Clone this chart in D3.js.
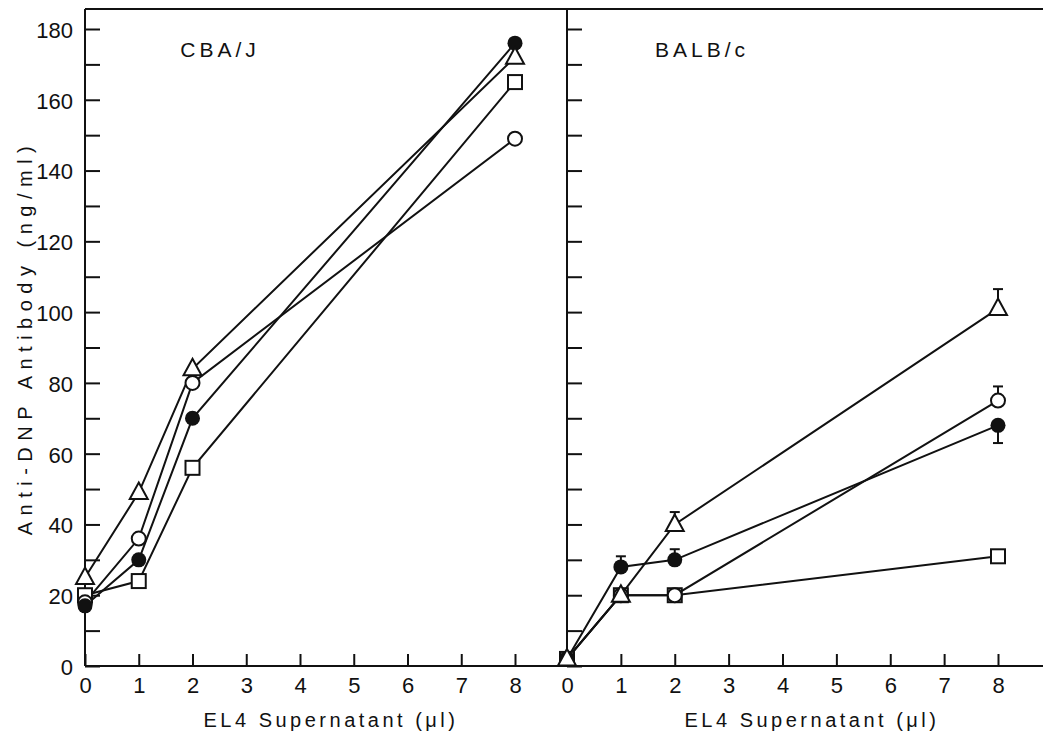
<!DOCTYPE html>
<html>
<head>
<meta charset="utf-8">
<script src="https://cdn.jsdelivr.net/npm/d3@7"></script>
<style>
  body { margin: 0; background: #fff; }
  text { font-family: "Liberation Sans", Arial, sans-serif; fill: #111; }
</style>
</head>
<body>
<div id="chart"></div>
<script>
// x positions (EL4 supernatant, ul)
var xVals = [0, 1, 2, 8];
var xTicks = [0, 1, 2, 3, 4, 5, 6, 7, 8];
var yTicks = d3.range(0, 181, 10);

// CBA/J panel
var cbaFilled = [17, 30, 70, 176];
var cbaCircle = [18, 36, 80, 149];
var cbaTriangle = [25, 49, 84, 172];
var cbaSquare = [20, 24, 56, 165];

// BALB/c panel
var balbFilled = [2, 28, 30, 68];
var balbCircle = [2, 20, 20, 75];
var balbTriangle = [2, 20, 40, 101];
var balbSquare = [2, 20, 20, 31];
// error bars (positive = drawn up, negative = drawn down, 0 = none)
var balbFilledErr = [0, 3, 3, -5];
var balbCircleErr = [0, 0, 0, 4];
var balbTriangleErr = [0, 0, 3.5, 5.5];
var balbSquareErr = [0, 0, 0, 0];

var W = 1043, H = 735;
var plotTop = 9, plotBottom = 666;
var leftX0 = 85, divX = 567;

var svg = d3.select("#chart").append("svg")
  .attr("width", W).attr("height", H);

var y = d3.scaleLinear().domain([0, 180]).range([plotBottom, 29]);

var panels = [
  { name: "CBA/J", x0: leftX0, x8: 515, labels: true, labelX: 220, titleX: 331,
    series: [
      { v: cbaSquare, m: "square" },
      { v: cbaCircle, m: "circle" },
      { v: cbaFilled, m: "filled" },
      { v: cbaTriangle, m: "triangle" }
    ] },
  { name: "BALB/c", x0: divX, x8: 998, labels: false, labelX: 702, titleX: 812,
    series: [
      { v: balbSquare, e: balbSquareErr, m: "square" },
      { v: balbCircle, e: balbCircleErr, m: "circle" },
      { v: balbFilled, e: balbFilledErr, m: "filled" },
      { v: balbTriangle, e: balbTriangleErr, m: "triangle" }
    ] }
];

// frame
svg.append("line").attr("x1", leftX0).attr("x2", W).attr("y1", plotTop).attr("y2", plotTop)
  .attr("stroke", "#111").attr("stroke-width", 2);
svg.append("line").attr("x1", leftX0).attr("x2", W).attr("y1", plotBottom).attr("y2", plotBottom)
  .attr("stroke", "#111").attr("stroke-width", 2);
[leftX0, divX].forEach(function(px) {
  svg.append("line").attr("x1", px).attr("x2", px).attr("y1", plotTop).attr("y2", plotBottom)
    .attr("stroke", "#111").attr("stroke-width", 2);
});

var line = d3.line();

panels.forEach(function(p) {
  var x = d3.scaleLinear().domain([0, 8]).range([p.x0, p.x8]);

  var yAxis = d3.axisLeft(y).tickValues(yTicks)
    .tickSizeInner(-15).tickSizeOuter(0).tickPadding(12)
    .tickFormat(function(d) { return (p.labels && d % 20 === 0) ? d : ""; });
  var ga = svg.append("g").attr("transform", "translate(" + p.x0 + ",0)").call(yAxis);
  ga.select(".domain").remove();
  ga.selectAll("line").attr("stroke", "#111").attr("stroke-width", 2);
  ga.selectAll("text").style("font-size", "22px").attr("dy", "0.38em");

  var xAxis = d3.axisBottom(x).tickValues(xTicks)
    .tickSizeInner(-12).tickSizeOuter(0).tickPadding(11);
  var gx = svg.append("g").attr("transform", "translate(0," + plotBottom + ")").call(xAxis);
  gx.select(".domain").remove();
  gx.selectAll("line").attr("stroke", "#111").attr("stroke-width", 2);
  gx.selectAll("text").style("font-size", "22px");

  svg.append("text").attr("x", p.titleX).attr("y", 727)
    .attr("text-anchor", "middle").style("font-size", "20px").style("letter-spacing", "3.5px")
    .text("EL4 Supernatant (\u03bcl)");

  svg.append("text").attr("x", p.labelX).attr("y", 57)
    .attr("text-anchor", "middle").style("font-size", "21px").style("letter-spacing", "4px")
    .text(p.name);

  // lines
  p.series.forEach(function(s) {
    svg.append("path")
      .attr("d", line(xVals.map(function(xv, i) { return [x(xv), y(s.v[i])]; })))
      .attr("fill", "none").attr("stroke", "#111").attr("stroke-width", 2);
  });

  // error bars
  p.series.forEach(function(s) {
    if (!s.e) return;
    xVals.forEach(function(xv, i) {
      if (!s.e[i]) return;
      var px = x(xv), y1 = y(s.v[i]), y2 = y(s.v[i] + s.e[i]);
      svg.append("line").attr("x1", px).attr("x2", px).attr("y1", y1).attr("y2", y2)
        .attr("stroke", "#111").attr("stroke-width", 2);
      svg.append("line").attr("x1", px - 5).attr("x2", px + 5).attr("y1", y2).attr("y2", y2)
        .attr("stroke", "#111").attr("stroke-width", 2);
    });
  });

  // markers
  p.series.forEach(function(s) {
    xVals.forEach(function(xv, i) {
      var px = x(xv), py = y(s.v[i]);
      var g = svg.append("g").attr("transform", "translate(" + px + "," + py + ")");
      if (s.m === "filled") {
        g.append("circle").attr("r", 7.5).attr("fill", "#111");
      } else if (s.m === "circle") {
        g.append("circle").attr("r", 7).attr("fill", "#fff").attr("stroke", "#111").attr("stroke-width", 2);
      } else if (s.m === "square") {
        g.append("rect").attr("x", -7).attr("y", -7).attr("width", 14).attr("height", 14)
          .attr("fill", "#fff").attr("stroke", "#111").attr("stroke-width", 2);
      } else {
        g.append("path").attr("d", "M0,-10L9,6.5L-9,6.5Z")
          .attr("fill", "#fff").attr("stroke", "#111").attr("stroke-width", 2);
      }
    });
  });
});

// y axis title
svg.append("text")
  .attr("transform", "translate(32," + ((plotTop + plotBottom) / 2) + ") rotate(-90)")
  .attr("text-anchor", "middle").style("font-size", "20px").style("letter-spacing", "6.5px")
  .text("Anti-DNP Antibody (ng/ml)");
</script>
</body>
</html>
